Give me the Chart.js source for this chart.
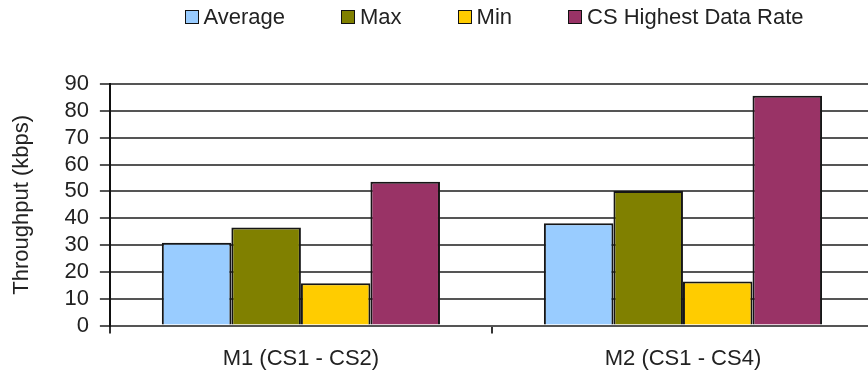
<!DOCTYPE html>
<html>
<head>
<meta charset="utf-8">
<script src="https://cdn.jsdelivr.net/npm/chart.js@4.4.1/dist/chart.umd.min.js"></script>
<style>
    html, body { margin: 0; padding: 0; background: #fff; overflow: hidden; }
    #wrap { position: relative; width: 874px; height: 373px; }
    #grafico { display: block; }
    #legenda {
        position: absolute; top: 4px; left: 114px; right: 0;
        display: flex; justify-content: center;
        font-family: 'Liberation Sans', Arial, sans-serif;
        font-size: 22px; color: #222;
    }
    #legenda span.item { display: flex; align-items: center; margin: 0 28px; }
    #legenda span.box {
        width: 12px; height: 12px; border: 1.5px solid #111; margin-right: 5px;
    }
</style>
</head>
<body>
<div id="wrap">
    <div id="legenda"></div>
    <canvas id="grafico" width="874" height="373"></canvas>
</div>
<script>
const categorie = ['M1 (CS1 - CS2)', 'M2 (CS1 - CS4)'];
const serie = ['Average', 'Max', 'Min', 'CS Highest Data Rate'];
const average = [30.9, 38.1];
const max = [36.5, 50.1];
const min = [15.8, 16.4];
const csHighest = [53.6, 85.6];
const colori = ['#99ccff', '#808000', '#ffcc00', '#993366'];

document.addEventListener("DOMContentLoaded", function () {
    const font = "'Liberation Sans', Arial, sans-serif";
    const valori = [average, max, min, csHighest];

    // legenda costruita dalle serie
    const legenda = document.getElementById('legenda');
    serie.forEach(function (nome, i) {
        const item = document.createElement('span');
        item.className = 'item';
        const box = document.createElement('span');
        box.className = 'box';
        box.style.background = colori[i];
        item.appendChild(box);
        item.appendChild(document.createTextNode(nome));
        legenda.appendChild(item);
    });

    const ctx = document.getElementById('grafico').getContext('2d');
    new Chart(ctx, {
        type: 'bar',
        data: {
            labels: categorie,
            datasets: serie.map(function (nome, i) {
                return {
                    label: nome,
                    data: valori[i],
                    backgroundColor: colori[i],
                    borderColor: '#161616',
                    borderWidth: 2,
                    categoryPercentage: 0.728,
                    barPercentage: 1
                };
            })
        },
        options: {
            responsive: false,
            animation: false,
            layout: { padding: { top: 84, right: 0, bottom: -11, left: 0 } },
            plugins: {
                legend: { display: false },
                tooltip: { enabled: false }
            },
            scales: {
                x: {
                    grid: { drawOnChartArea: false, tickLength: 8, color: '#333', lineWidth: 2 },
                    border: { color: '#555', width: 2 },
                    ticks: { color: '#222', padding: 12, font: { family: font, size: 22 } }
                },
                y: {
                    min: 0,
                    max: 90,
                    ticks: { stepSize: 10, autoSkip: false, color: '#222', padding: 11, font: { family: font, size: 22 } },
                    grid: { color: '#555', lineWidth: 2, tickLength: 10 },
                    border: { color: '#111', width: 2 },
                    title: {
                        display: true,
                        text: 'Throughput (kbps)',
                        color: '#222',
                        font: { family: font, size: 22 },
                        padding: { top: 9, bottom: 18 }
                    }
                }
            }
        }
    });
});
</script>
</body>
</html>
